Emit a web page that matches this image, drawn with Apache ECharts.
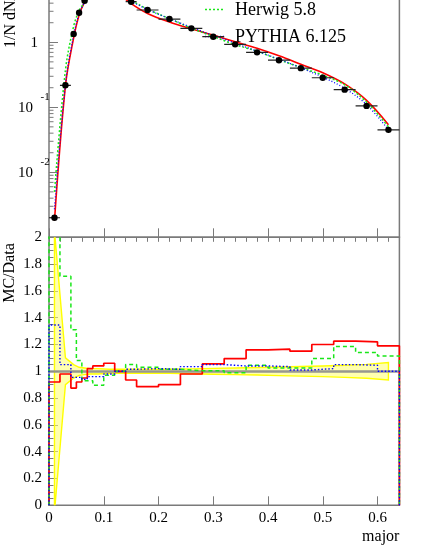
<!DOCTYPE html>
<html>
<head>
<meta charset="utf-8">
<script src="https://cdn.jsdelivr.net/npm/echarts@6/dist/echarts.min.js"></script>
<style>
  html, body { margin: 0; padding: 0; background: #fff; }
  #chart { width: 421px; height: 545px; }
</style>
</head>
<body>
<div id="chart"></div>
<script>
// binning of "major"
const binEdges = [0, 0.02, 0.04, 0.05, 0.06, 0.07, 0.08, 0.10, 0.12, 0.14, 0.16, 0.20, 0.24, 0.28, 0.32, 0.36, 0.40, 0.44, 0.48, 0.52, 0.56, 0.60, 0.64];
const binCenters = [0.01, 0.03, 0.045, 0.055, 0.065, 0.075, 0.09, 0.11, 0.13, 0.15, 0.18, 0.22, 0.26, 0.30, 0.34, 0.38, 0.42, 0.46, 0.50, 0.54, 0.58, 0.62];

// top panel: 1/N dN/dMajor (bins 0.07-0.14 sit above the visible area)
const dataValues   = [0.0020, 0.218, 1.34, 2.85, 4.36, 5.3, 5.7, 5.6, 5.3, 4.21, 3.14, 2.28, 1.64, 1.22, 0.93, 0.70, 0.53, 0.40, 0.285, 0.187, 0.105, 0.045];
const ariadneCurve = [0.0018, 0.214, 1.17, 2.62, 4.14, 5.4, 5.9, 5.9, 5.3, 3.94, 2.78, 2.05, 1.61, 1.29, 1.02, 0.81, 0.62, 0.46, 0.34, 0.229, 0.128, 0.054];
const herwigCurve  = [0.005, 0.373, 1.76, 3.08, 4.05, 4.93, 5.1, 5.43, 5.3, 4.42, 3.23, 2.31, 1.65, 1.23, 0.92, 0.73, 0.54, 0.41, 0.312, 0.222, 0.120, 0.050];
const pythiaCurve  = [0.0027, 0.229, 1.28, 2.72, 4.10, 5.09, 5.47, 5.49, 5.3, 4.27, 3.20, 2.31, 1.70, 1.28, 0.97, 0.73, 0.55, 0.404, 0.291, 0.196, 0.110, 0.045];

// bottom panel: MC/Data
const ariadneRatio = [0.92, 0.98, 0.875, 0.92, 0.95, 1.02, 1.04, 1.06, 1.0, 0.935, 0.885, 0.90, 0.98, 1.055, 1.095, 1.16, 1.165, 1.15, 1.20, 1.225, 1.22, 1.19];
const herwigRatio  = [2.5, 1.71, 1.31, 1.08, 0.93, 0.93, 0.895, 0.97, 1.0, 1.05, 1.03, 1.015, 1.005, 1.005, 0.99, 1.045, 1.025, 1.025, 1.095, 1.185, 1.14, 1.115];
const pythiaRatio  = [1.345, 1.05, 0.955, 0.955, 0.94, 0.96, 0.96, 0.98, 1.0, 1.015, 1.02, 1.015, 1.035, 1.05, 1.04, 1.04, 1.035, 1.01, 1.02, 1.05, 1.045, 1.0];
// data uncertainty band
const bandHigh = [2.05, 1.1, 1.05, 1.03, 1.025, 1.02, 1.02, 1.015, 1.015, 1.015, 1.015, 1.015, 1.018, 1.022, 1.025, 1.028, 1.032, 1.036, 1.04, 1.045, 1.052, 1.065];
const bandLow  = [-0.05, 0.9, 0.95, 0.97, 0.975, 0.98, 0.98, 0.985, 0.985, 0.985, 0.985, 0.985, 0.982, 0.978, 0.975, 0.972, 0.968, 0.964, 0.96, 0.955, 0.948, 0.935];

// log axis labels of the top panel
const logTickValues = [1, 0.1, 0.01];
const logTickBases = ['1', '10', '10'];
const logTickExps = ['', '-1', '-2'];

const FONT = '"Liberation Serif", "DejaVu Serif", serif';
const FRAME = '#7a7a7a';
const RED = '#ff0000', GREEN = '#19e619', BLUE = '#0000ff';

const chart = echarts.init(document.getElementById('chart'));

// histogram outline, starting and ending on zero like ROOT draws it
function stepPoints(vals) {
  const pts = [[binEdges[0], 0]];
  vals.forEach((v, i) => {
    pts.push([binEdges[i], v]);
    pts.push([binEdges[i + 1], v]);
  });
  pts.push([binEdges[binEdges.length - 1], 0]);
  return pts;
}

function curvePoints(vals) {
  return binCenters.map((x, i) => [x, vals[i]]);
}

const tickStyle = { color: FRAME, width: 1 };

function xAxisPair(gridIndex, withLabels) {
  return [
    {
      gridIndex: gridIndex, type: 'value', min: 0, max: 0.64, interval: 0.1,
      axisLine: { show: false }, splitLine: { show: false },
      axisTick: { show: true, inside: true, length: 9, lineStyle: tickStyle },
      axisLabel: {
        show: withLabels, showMaxLabel: false, margin: 5,
        fontFamily: FONT, fontSize: 15, color: '#000'
      }
    },
    {
      gridIndex: gridIndex, type: 'value', min: 0, max: 0.64, interval: 0.02,
      axisLine: { show: false }, splitLine: { show: false },
      axisTick: { show: true, inside: true, length: 4.5, lineStyle: tickStyle },
      axisLabel: { show: false }
    }
  ];
}

const option = {
  animation: false,
  backgroundColor: '#fff',
  grid: [
    { left: 49, right: 21.6, top: -22.7, height: 260, outerBoundsMode: 'none', show: true, borderColor: FRAME, borderWidth: 1.5, backgroundColor: 'transparent' },
    { left: 49, right: 21.6, top: 237.3, height: 268, outerBoundsMode: 'none', show: true, borderColor: FRAME, borderWidth: 1.5, backgroundColor: 'transparent' }
  ],
  xAxis: xAxisPair(0, false).concat(xAxisPair(1, true)),
  yAxis: [
    {
      gridIndex: 0, type: 'log', logBase: 10, min: 0.001, max: 10,
      axisLine: { show: false }, splitLine: { show: false },
      axisTick: { show: true, inside: true, length: 9, lineStyle: tickStyle },
      axisLabel: { show: false }
    },
    {
      gridIndex: 1, type: 'value', min: 0, max: 2, interval: 0.2,
      axisLine: { show: false }, splitLine: { show: false },
      axisTick: { show: true, inside: true, length: 9, lineStyle: tickStyle },
      minorTick: { show: true, splitNumber: 4, length: 4.5, lineStyle: tickStyle },
      axisLabel: { margin: 7, fontFamily: FONT, fontSize: 15, color: '#000' }
    }
  ],
  series: [
    // ---- top panel ----
    {
      name: 'ARIADNE', type: 'line', xAxisIndex: 0, yAxisIndex: 0, z: 3,
      data: curvePoints(ariadneCurve), smooth: 0.35, showSymbol: false,
      lineStyle: { color: RED, width: 1.6 }
    },
    {
      name: 'Herwig 5.8', type: 'line', xAxisIndex: 0, yAxisIndex: 0, z: 3,
      data: curvePoints(herwigCurve), smooth: 0.35, showSymbol: false,
      lineStyle: { color: GREEN, width: 1.5, type: [2, 2] }
    },
    {
      name: 'PYTHIA 6.125', type: 'line', xAxisIndex: 0, yAxisIndex: 0, z: 3,
      data: curvePoints(pythiaCurve), smooth: 0.35, showSymbol: false,
      lineStyle: { color: BLUE, width: 1.3, type: [1, 2] }
    },
    {
      name: 'Data', type: 'custom', xAxisIndex: 0, yAxisIndex: 0, z: 4, clip: true,
      data: binCenters.map((x, i) => [x, dataValues[i], binEdges[i], binEdges[i + 1]]),
      renderItem: function (params, api) {
        const c = api.coord([api.value(0), api.value(1)]);
        const lo = api.coord([api.value(2), api.value(1)]);
        const hi = api.coord([api.value(3), api.value(1)]);
        return {
          type: 'group',
          children: [
            { type: 'line', shape: { x1: lo[0], y1: lo[1], x2: hi[0], y2: hi[1] }, style: { stroke: '#222', lineWidth: 1.2 } },
            { type: 'circle', shape: { cx: c[0], cy: c[1], r: 3.2 }, style: { fill: '#000' } }
          ]
        };
      }
    },
    // ---- bottom panel ----
    {
      name: 'band', type: 'custom', xAxisIndex: 2, yAxisIndex: 1, z: 1, clip: true,
      data: [[0.3, 1]],
      renderItem: function (params, api) {
        const upper = binCenters.map((x, i) => api.coord([x, bandHigh[i]]));
        const lower = binCenters.map((x, i) => api.coord([x, bandLow[i]])).reverse();
        return {
          type: 'polygon',
          shape: { points: upper.concat(lower) },
          style: { fill: 'rgba(255,255,110,0.55)', stroke: '#ffff00', lineWidth: 1.4 }
        };
      },
      markLine: {
        silent: true, symbol: 'none', z: 2,
        label: { show: false },
        lineStyle: { color: '#8c8c8c', width: 2.5, type: 'solid', opacity: 0.9 },
        data: [{ yAxis: 1 }]
      }
    },
    {
      name: 'ARIADNE ratio', type: 'line', xAxisIndex: 2, yAxisIndex: 1, z: 3,
      data: stepPoints(ariadneRatio), showSymbol: false,
      lineStyle: { color: RED, width: 1.7 }
    },
    {
      name: 'Herwig ratio', type: 'line', xAxisIndex: 2, yAxisIndex: 1, z: 3,
      data: stepPoints(herwigRatio), showSymbol: false,
      lineStyle: { color: GREEN, width: 1.5, type: [4, 3] }
    },
    {
      name: 'PYTHIA ratio', type: 'line', xAxisIndex: 2, yAxisIndex: 1, z: 3,
      data: stepPoints(pythiaRatio), showSymbol: false,
      lineStyle: { color: BLUE, width: 1.4, type: [1.5, 2] }
    }
  ]
};

chart.setOption(option);

// decorations that need pixel positions from the axes
const graphics = [];
const axisX = chart.convertToPixel({ gridIndex: 0 }, [0, 1])[0];

// log minor ticks (2..9 per decade)
for (let d = -3; d <= 0; d++) {
  for (let m = 2; m <= 9; m++) {
    const y = chart.convertToPixel({ gridIndex: 0 }, [0, m * Math.pow(10, d)])[1];
    graphics.push({
      type: 'line', silent: true,
      shape: { x1: axisX, y1: y, x2: axisX + 4.5, y2: y },
      style: { stroke: FRAME, lineWidth: 1 }
    });
  }
}

// log axis labels with exponents
logTickValues.forEach((v, i) => {
  const y = chart.convertToPixel({ gridIndex: 0 }, [0, v])[1];
  if (logTickExps[i] === '') {
    graphics.push({
      type: 'text', x: axisX - 11, y: y + 1,
      style: { text: logTickBases[i], fontFamily: FONT, fontSize: 15, fill: '#000', align: 'right', verticalAlign: 'middle' }
    });
  } else {
    graphics.push({
      type: 'text', x: axisX - 16, y: y + 1,
      style: { text: logTickBases[i], fontFamily: FONT, fontSize: 15, fill: '#000', align: 'right', verticalAlign: 'middle' }
    });
    graphics.push({
      type: 'text', x: axisX - 8.5, y: y - 10,
      style: { text: logTickExps[i], fontFamily: FONT, fontSize: 11, fill: '#000', align: 'left', verticalAlign: 'middle' }
    });
  }
});

// axis titles
graphics.push({
  type: 'text', x: 11, y: 48, rotation: Math.PI / 2,
  style: { text: '1/N dN/dMajor', fontFamily: FONT, fontSize: 16, fill: '#000', align: 'left', verticalAlign: 'middle' }
});
graphics.push({
  type: 'text', x: 10, y: 273, rotation: Math.PI / 2,
  style: { text: 'MC/Data', fontFamily: FONT, fontSize: 16, fill: '#000', align: 'center', verticalAlign: 'middle' }
});
graphics.push({
  type: 'text', x: 399.4, y: 537,
  style: { text: 'major', fontFamily: FONT, fontSize: 16, fill: '#000', align: 'right', verticalAlign: 'middle' }
});

// legend (the upper entries are cut off in the picture)
graphics.push({
  type: 'line', shape: { x1: 205, y1: 9.5, x2: 224, y2: 9.5 },
  style: { stroke: GREEN, lineWidth: 1.5, lineDash: [2, 2] }
});
graphics.push({
  type: 'text', x: 235, y: 10.5,
  style: { text: 'Herwig 5.8', fontFamily: FONT, fontSize: 18, fill: '#000', align: 'left', verticalAlign: 'middle' }
});
graphics.push({
  type: 'line', shape: { x1: 205, y1: 36.5, x2: 224, y2: 36.5 },
  style: { stroke: BLUE, lineWidth: 1.3, lineDash: [1, 2] }
});
graphics.push({
  type: 'text', x: 235, y: 37,
  style: { text: 'PYTHIA 6.125', fontFamily: FONT, fontSize: 18, fill: '#000', align: 'left', verticalAlign: 'middle' }
});

chart.setOption({ graphic: graphics });
</script>
</body>
</html>
